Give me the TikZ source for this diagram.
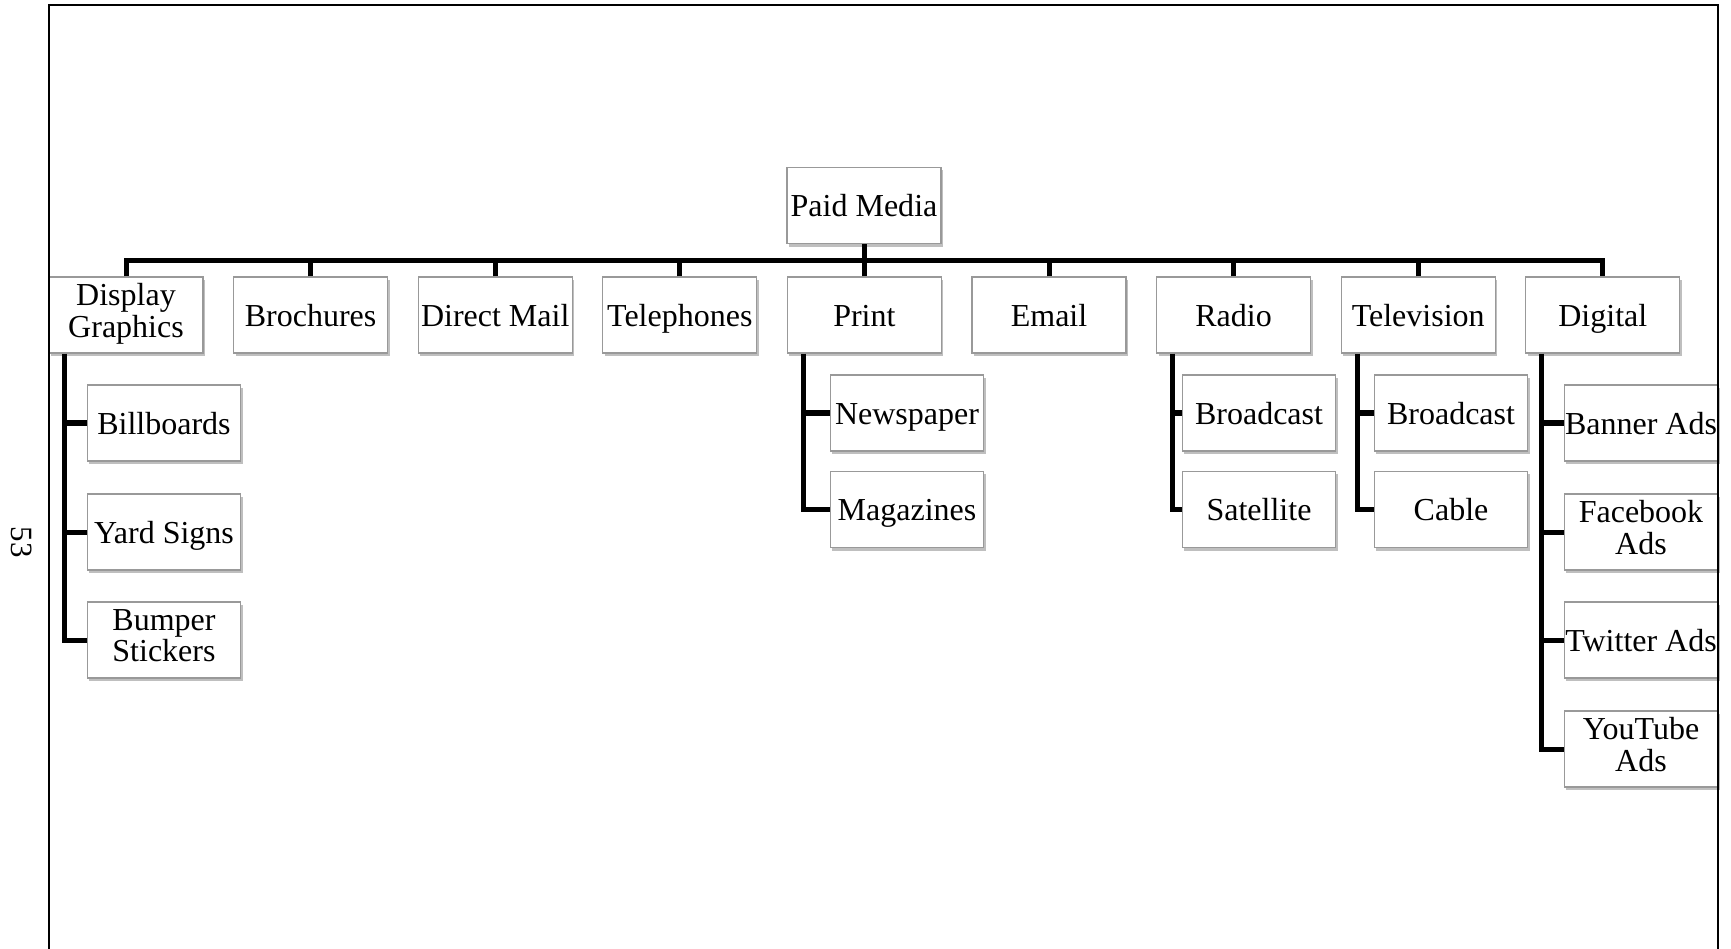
\documentclass[tikz,border=0pt]{standalone}
\usepackage{fontspec}
\setmainfont{Liberation Serif}
\usetikzlibrary{shadows,calc}
\begin{document}
\begin{tikzpicture}[x=0.01cm,y=-0.01cm,
  box/.style={draw=black!40, line width=0.012cm, fill=white,
    minimum width=1.54cm, minimum height=0.76cm, inner sep=0pt,
    align=center, font=\fontsize{9.1pt}{9pt}\selectfont,
    execute at begin node={\rule{0pt}{9pt}},
    execute at end node={\rule[-2.5pt]{0pt}{2.5pt}},
    drop shadow={shadow xshift=0.02cm, shadow yshift=-0.03cm,
      opacity=0.25, fill=black}},
  twoline/.style={execute at begin node={\rule{0pt}{11.4pt}}},
  sub/.style={box, minimum width=1.53cm},
  link/.style={line width=0.05cm, line join=miter},
  frame/.style={line width=0.02cm}]
\useasboundingbox (0,0) rectangle (1731,949);

% root
\node[box] (pm) at (864,205.5) {Paid Media};

% first level
\node[box,twoline] (dg) at (126,315) {Display\\Graphics};
\node[box] (br)  at (310.6,315)  {Brochures};
\node[box] (dm)  at (495.2,315)  {Direct Mail};
\node[box] (tel) at (679.8,315)  {Telephones};
\node[box] (pr)  at (864.4,315)  {Print};
\node[box] (em)  at (1049,315)   {Email};
\node[box] (ra)  at (1233.6,315) {Radio};
\node[box] (tv)  at (1418.2,315) {Television};
\node[box] (dig) at (1602.8,315) {Digital};

% second level
\node[sub] (bill) at (164,423) {Billboards};
\node[sub] (yard) at (164,532) {Yard Signs};
\node[sub,twoline] (bump) at (164,640) {Bumper\\Stickers};

\node[sub] (news) at (907,413)   {Newspaper};
\node[sub] (mag)  at (907,509.5) {Magazines};

\node[sub] (rab)  at (1259,413)   {Broadcast};
\node[sub] (sat)  at (1259,509.5) {Satellite};

\node[sub] (tvb)  at (1451,413)   {Broadcast};
\node[sub] (cab)  at (1451,509.5) {Cable};

\node[sub] (ban)  at (1641,423) {Banner Ads};
\node[sub,twoline] (fb) at (1641,532) {Facebook\\Ads};
\node[sub] (tw)   at (1641,640) {Twitter Ads};
\node[sub,twoline] (yt) at (1641,749) {YouTube\\Ads};

% bus from the root to the first level
\coordinate (bus) at (0,261);
\draw[link] (pm.south) -- (pm.south |- bus);
\draw[link] (dg.north) -- (dg.north |- bus) -| (dig.north);
\foreach \n in {br,dm,tel,pr,em,ra,tv}
  \draw[link] (\n.north) -- (\n.north |- bus);

% trunks of the second level
\foreach \p/\last/\others in {dg/bump/{bill,yard}, pr/mag/{news}, ra/sat/{rab},
                             tv/cab/{tvb}, dig/yt/{ban,fb,tw}}{
  \coordinate (\p-t) at ([xshift=0.165cm]\p.south west);
  \draw[link] (\p-t) |- (\last.west);
  \foreach \c in \others
    \draw[link] (\c.west -| \p-t) -- (\c.west);
}

% page frame and page number
\draw[frame] (49,949) -- (49,5) -- (1718,5) -- (1718,949);
\node[rotate=-90, font=\fontsize{8.8pt}{9pt}\selectfont] (pg) at (22,542) {53};
\end{tikzpicture}
\end{document}
